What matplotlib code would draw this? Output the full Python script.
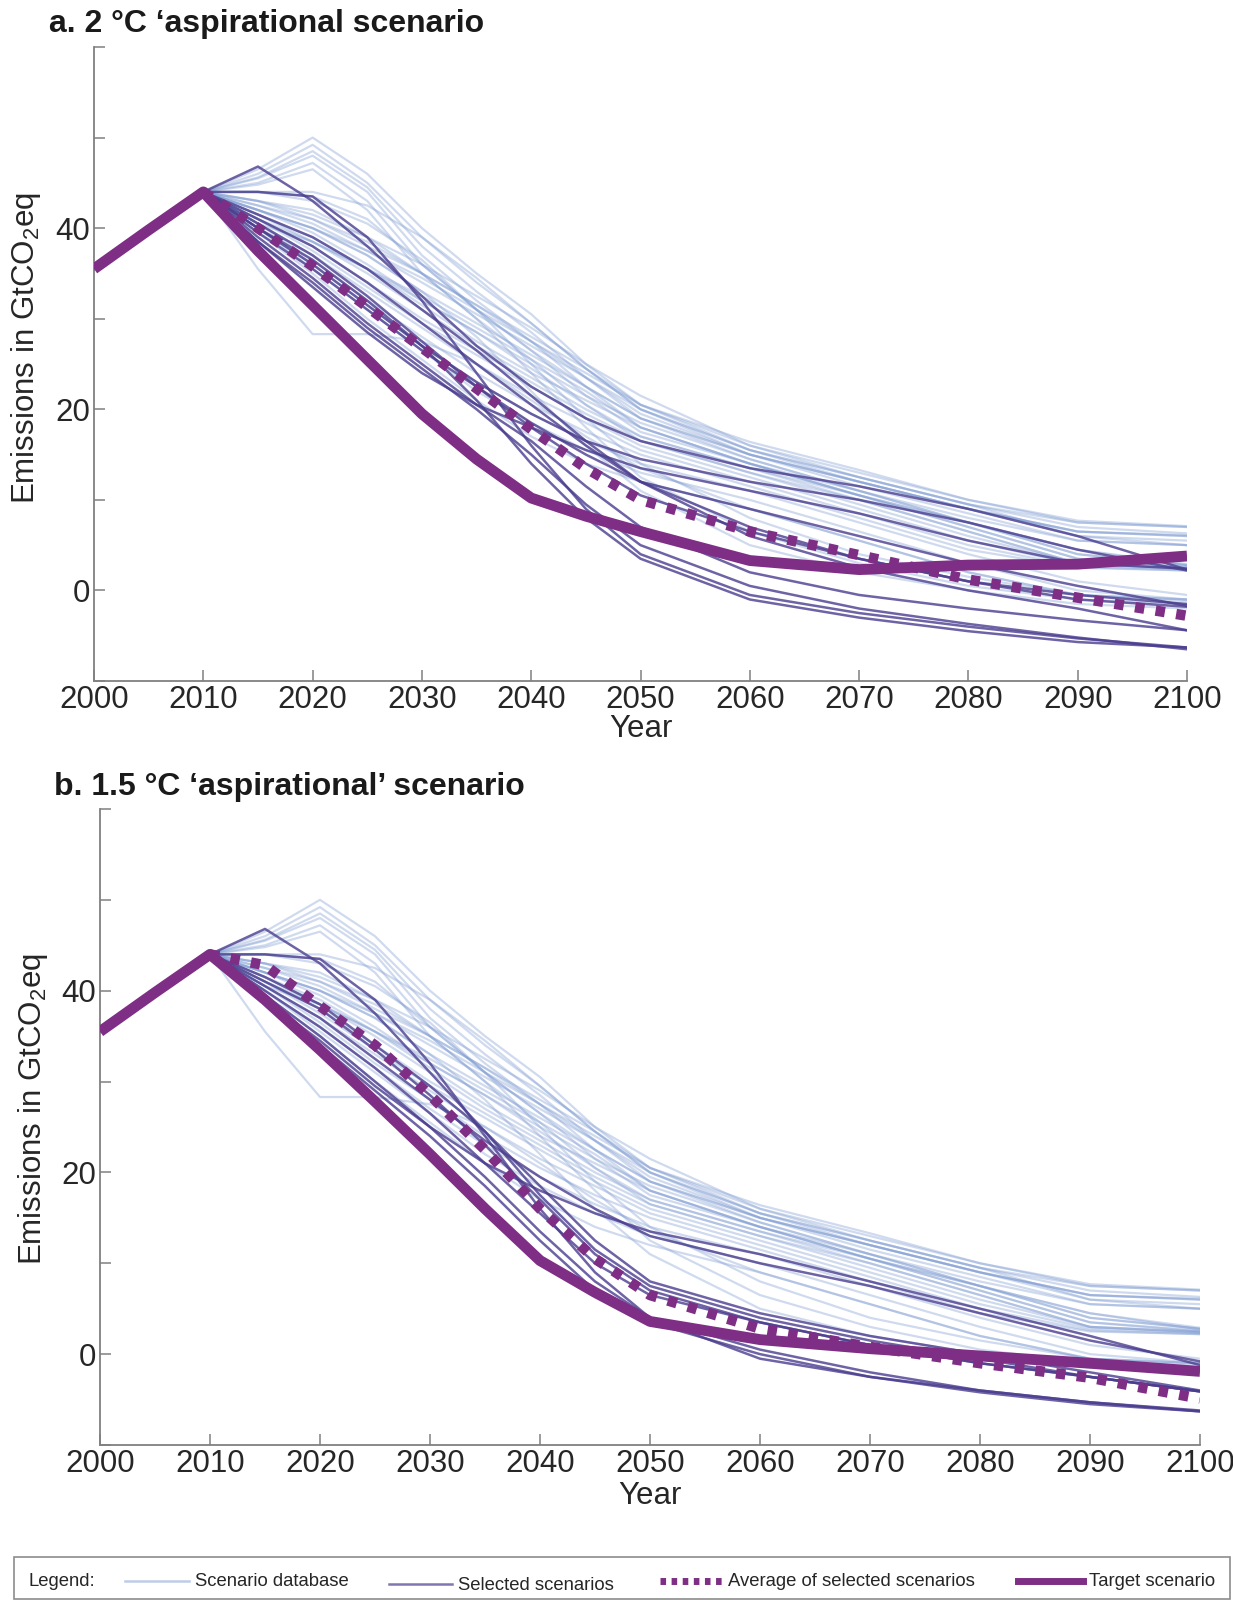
import matplotlib
matplotlib.use("Agg")
import matplotlib.pyplot as plt
from matplotlib.patches import Rectangle
from matplotlib.lines import Line2D

plt.rcParams['font.family'] = ['Liberation Sans', 'DejaVu Sans']
plt.rcParams['mathtext.fontset'] = 'custom'
plt.rcParams['mathtext.rm'] = 'Liberation Sans'
plt.rcParams['mathtext.it'] = 'Liberation Sans'

# ---------------- data ----------------
YEARS = [2000, 2005, 2010, 2015, 2020, 2025, 2030, 2035, 2040, 2045, 2050,
         2060, 2070, 2080, 2090, 2100]
HIST = [35.5, 39.8, 44.0]          # 2000, 2005, 2010 (shared by all scenarios)
AVG_YEARS = YEARS[2:]              # average of selected drawn from 2010

# scenario database (values 2015 ... 2100)
DB01 = [46.5, 50.0, 46.0, 40.0, 35.0, 30.5, 25.0, 20.5, 16.4, 13.3, 10.0, 7.7, 7.1]
DB02 = [46.0, 49.2, 45.0, 39.0, 34.0, 29.5, 24.5, 20.0, 15.5, 12.5, 9.5, 7.0, 6.3]
DB03 = [45.6, 48.5, 44.5, 38.0, 33.0, 28.5, 23.5, 19.0, 15.0, 12.0, 9.0, 6.0, 5.5]
DB04 = [45.5, 48.0, 44.0, 37.0, 32.0, 27.5, 22.5, 18.0, 14.0, 10.5, 7.0, 3.5, 2.5]
DB05 = [45.0, 47.2, 43.0, 36.0, 31.0, 26.5, 21.5, 17.5, 14.0, 11.0, 7.5, 4.0, 2.8]
DB06 = [44.8, 46.5, 42.0, 35.0, 30.0, 25.5, 20.5, 16.5, 13.0, 10.0, 6.5, 3.0, 2.4]
DB07 = [35.5, 28.3, 28.3, 27.5, 25.0, 21.0, 17.0, 13.5, 9.0, 5.5, 2.0, -0.5, -1.0]
DB08 = [44.0, 43.5, 41.0, 36.0, 31.0, 26.5, 22.5, 19.0, 15.0, 12.0, 9.0, 6.5, 6.1]
DB09 = [43.0, 41.5, 39.0, 36.0, 32.5, 29.0, 25.0, 21.5, 16.0, 12.5, 9.5, 7.5, 7.0]
DB10 = [42.5, 41.0, 38.0, 35.0, 31.5, 28.0, 24.5, 20.5, 15.5, 12.0, 9.0, 6.5, 6.0]
DB11 = [42.5, 40.5, 37.5, 34.0, 30.5, 27.0, 23.5, 20.0, 15.0, 11.5, 8.5, 5.5, 5.0]
DB12 = [42.0, 40.0, 37.0, 33.0, 29.5, 26.0, 22.5, 19.0, 14.5, 11.0, 8.0, 5.5, 5.0]
DB13 = [42.0, 39.5, 36.0, 32.0, 28.5, 25.0, 21.5, 18.5, 14.5, 11.0, 7.5, 4.0, 2.8]
DB14 = [41.5, 39.0, 35.5, 31.5, 27.5, 24.0, 21.0, 18.0, 14.0, 10.5, 7.0, 3.5, 2.6]
DB15 = [41.5, 38.5, 35.0, 31.0, 27.0, 23.5, 20.0, 17.0, 13.5, 10.0, 6.5, 3.0, 2.5]
DB16 = [41.0, 38.0, 34.0, 30.0, 26.5, 23.0, 19.5, 16.5, 13.0, 9.5, 6.0, 3.0, 2.4]
DB17 = [41.0, 37.5, 33.5, 29.5, 26.0, 22.5, 19.0, 16.0, 12.5, 9.0, 5.5, 2.8, 2.3]
DB18 = [40.5, 37.0, 33.0, 29.0, 25.0, 21.5, 18.5, 15.5, 12.0, 8.5, 5.0, 2.6, 2.2]
DB19 = [40.5, 36.5, 32.0, 28.0, 24.0, 20.5, 17.5, 15.0, 11.5, 8.0, 4.5, 2.5, 2.2]
DB20 = [40.0, 36.0, 31.5, 27.0, 23.0, 19.5, 16.5, 14.0, 11.0, 7.5, 4.0, 1.0, -0.5]
DB21 = [40.0, 35.5, 31.0, 26.5, 22.0, 18.5, 15.5, 13.0, 10.0, 6.5, 3.0, 0.0, -1.0]
DB22 = [39.5, 35.0, 30.0, 25.5, 21.0, 17.0, 14.0, 12.0, 9.0, 5.5, 2.0, -0.5, -1.2]
DB23 = [42.0, 40.0, 37.5, 34.5, 31.0, 27.5, 24.0, 20.5, 16.0, 13.0, 10.0, 7.5, 7.0]
DB24 = [43.0, 41.0, 38.5, 35.0, 31.5, 27.5, 23.5, 19.5, 15.0, 12.0, 9.0, 6.5, 6.0]
DB25 = [40.5, 38.5, 35.5, 32.0, 28.5, 24.5, 20.5, 17.0, 13.5, 10.5, 7.5, 4.5, 2.7]
DB26 = [42.0, 40.0, 37.0, 33.0, 28.0, 22.0, 16.0, 11.0, 5.0, 2.0, 0.0, -1.5, -2.0]
DB27 = [43.0, 42.0, 39.0, 35.0, 30.0, 24.0, 18.0, 12.5, 6.5, 3.0, 0.5, -1.0, -1.5]
DB28 = [44.0, 43.0, 40.5, 36.5, 31.0, 25.0, 19.0, 14.0, 8.0, 4.0, 1.5, -0.5, -1.0]
DB29 = [41.0, 38.5, 35.5, 32.5, 29.0, 25.5, 22.0, 18.0, 14.0, 10.5, 7.5, 4.5, 2.9]
DB30 = [44.0, 44.0, 42.5, 39.0, 34.5, 29.5, 24.5, 20.0, 15.5, 12.5, 9.5, 6.0, 5.0]
DATABASE = [DB01, DB02, DB03, DB04, DB05, DB06, DB07, DB08, DB09, DB10,
            DB11, DB12, DB13, DB14, DB15, DB16, DB17, DB18, DB19, DB20,
            DB21, DB22, DB23, DB24, DB25, DB26, DB27, DB28, DB29, DB30]

# selected scenarios, panel a (2015 ... 2100)
SA01 = [46.8, 43.0, 38.0, 32.5, 27.0, 22.5, 19.0, 16.5, 13.5, 11.5, 9.0, 6.0, 2.3]
SA02 = [44.0, 43.5, 39.0, 32.0, 24.0, 16.0, 9.0, 4.0, -0.5, -2.5, -4.0, -5.3, -6.3]
SA03 = [40.0, 36.0, 31.5, 27.0, 23.0, 19.5, 16.5, 14.5, 12.0, 10.0, 7.5, 4.5, 2.2]
SA04 = [39.5, 35.5, 31.0, 26.5, 22.5, 18.5, 15.0, 12.0, 9.0, 6.0, 3.0, 0.5, -1.7]
SA05 = [39.0, 34.5, 29.5, 25.0, 20.5, 16.5, 11.5, 7.0, 2.0, -0.5, -2.0, -3.3, -4.4]
SA06 = [38.5, 34.0, 29.0, 24.5, 20.0, 15.0, 9.5, 5.0, 0.5, -2.0, -3.7, -5.2, -6.5]
SA07 = [38.5, 33.5, 28.5, 24.0, 20.5, 18.0, 15.5, 13.5, 11.0, 8.5, 5.5, 3.0, 2.4]
SA08 = [40.5, 37.0, 32.5, 27.5, 22.5, 18.0, 14.0, 10.5, 6.5, 3.5, 1.0, -1.0, -1.8]
SA09 = [41.0, 38.0, 34.0, 29.5, 25.0, 20.5, 16.0, 12.0, 7.0, 3.5, 1.0, -0.5, -1.5]
SA10 = [40.0, 36.5, 32.0, 27.0, 21.0, 14.0, 8.0, 3.5, -1.0, -3.0, -4.5, -5.7, -6.3]
SA11 = [41.5, 39.0, 35.5, 31.0, 26.5, 21.5, 16.5, 12.0, 6.0, 2.5, 0.0, -2.0, -4.4]
SELECTED_A = [SA01, SA02, SA03, SA04, SA05, SA06, SA07, SA08, SA09, SA10, SA11]

# selected scenarios, panel b (2015 ... 2100)
SB01 = [46.8, 43.0, 37.5, 31.0, 24.5, 17.5, 11.5, 7.5, 4.0, 1.5, -0.5, -2.5, -4.1]
SB02 = [44.0, 43.5, 39.0, 32.0, 24.0, 16.0, 9.0, 4.0, -0.5, -2.5, -4.0, -5.3, -6.3]
SB03 = [40.0, 36.0, 31.5, 26.5, 21.0, 15.5, 10.0, 6.5, 3.5, 1.0, -1.0, -2.5, -4.1]
SB04 = [39.5, 35.0, 30.0, 25.0, 19.5, 13.5, 8.0, 4.0, 0.5, -2.0, -4.0, -5.3, -6.2]
SB05 = [39.0, 34.5, 29.5, 25.0, 21.0, 18.0, 15.5, 13.5, 11.0, 8.0, 5.0, 2.0, -1.2]
SB06 = [40.5, 37.0, 32.5, 28.0, 23.5, 19.5, 16.0, 13.0, 10.0, 7.5, 4.5, 1.5, -0.8]
SB07 = [41.0, 38.0, 33.5, 28.5, 23.0, 17.0, 11.0, 7.0, 3.5, 1.0, -1.0, -2.5, -4.1]
SB08 = [39.0, 34.0, 29.0, 24.0, 18.5, 12.5, 7.0, 3.5, 0.0, -2.5, -4.2, -5.5, -6.3]
SB09 = [41.5, 38.5, 34.0, 29.5, 24.5, 18.5, 12.5, 8.0, 4.5, 2.0, 0.0, -2.0, -4.0]
SELECTED_B = [SB01, SB02, SB03, SB04, SB05, SB06, SB07, SB08, SB09]

# averages of selected scenarios (2010 ... 2100)
AVG_A = [44.0, 40.0, 35.8, 31.3, 26.8, 22.3, 17.8, 13.5, 10.0, 6.5, 3.9, 1.2, -0.8, -2.8]
AVG_B = [44.0, 42.8, 38.3, 34.0, 28.5, 22.5, 16.0, 10.5, 6.5, 2.8, 0.8, -1.0, -2.6, -4.9]

# target scenarios (2000 ... 2100)
TARGET_A = [35.5, 39.8, 44.0, 37.5, 31.5, 25.5, 19.5, 14.5, 10.2, 8.2, 6.5, 3.3, 2.3, 2.8, 2.9, 3.8]
TARGET_B = [35.5, 39.8, 44.0, 39.0, 33.5, 27.8, 22.0, 16.0, 10.3, 6.8, 3.6, 1.6, 0.6, -0.2, -1.0, -1.9]

TITLES = ["a. 2 \u00b0C \u2018aspirational scenario",
          "b. 1.5 \u00b0C \u2018aspirational\u2019 scenario"]
XLABEL = "Year"
YLABEL = "Emissions in GtCO$_2$eq"
XTICKS = list(range(2000, 2101, 10))
YTICKS = list(range(-10, 61, 10))
YTICKLABELS = ["" if v not in (0, 20, 40) else str(v) for v in YTICKS]
LEGEND_LABELS = ["Scenario database", "Selected scenarios",
                 "Average of selected scenarios", "Target scenario"]

# ---------------- style ----------------
C_DB = '#7d9bd2'
C_SEL = '#4a3d8f'
C_TGT = '#7e2e84'
C_SPINE = '#808080'
C_TXT = '#262626'

W, H = 1233, 1600
fig = plt.figure(figsize=(W / 100, H / 100), dpi=100)


def frac(l, t, r, b):
    return [l / W, 1 - b / H, (r - l) / W, (b - t) / H]


panels = [
    dict(rect=frac(94, 47, 1187, 681), sel=SELECTED_A, avg=AVG_A, tgt=TARGET_A,
         title=TITLES[0], tx=49, ty=32, ylc=(-0.047, 0.525), xlc=(0.5, -0.052)),
    dict(rect=frac(100, 809, 1200, 1445), sel=SELECTED_B, avg=AVG_B, tgt=TARGET_B,
         title=TITLES[1], tx=54, ty=795, ylc=(-0.045, 0.528), xlc=(0.5, -0.057)),
]

for p in panels:
    ax = fig.add_axes(p['rect'])
    for s in DATABASE:
        ax.plot(YEARS, HIST + s, color=C_DB, alpha=0.36, lw=1.6, zorder=1,
                solid_joinstyle='round')
    for s in p['sel']:
        ax.plot(YEARS, HIST + s, color=C_SEL, alpha=0.8, lw=1.8, zorder=2,
                solid_joinstyle='round')
    ax.plot(AVG_YEARS, p['avg'], color=C_TGT, lw=7.5, zorder=3,
            dashes=(0.9, 1.1), dash_capstyle='butt')
    ax.plot(YEARS, p['tgt'], color=C_TGT, lw=7.8, zorder=4,
            solid_joinstyle='round', solid_capstyle='butt')

    ax.set_xlim(2000, 2100)
    ax.set_ylim(-10, 60)
    ax.set_xticks(XTICKS)
    ax.set_yticks(YTICKS)
    ax.set_yticklabels(YTICKLABELS)
    for side in ('top', 'right'):
        ax.spines[side].set_visible(False)
    for side in ('left', 'bottom'):
        ax.spines[side].set_color(C_SPINE)
        ax.spines[side].set_linewidth(1.3)
    ax.tick_params(direction='in', length=8, width=1.1, color=C_SPINE,
                   labelsize=22.5, labelcolor=C_TXT, pad=3)
    ax.set_xlabel(XLABEL, fontsize=22.5, color=C_TXT)
    ax.set_ylabel(YLABEL, fontsize=22.5, color=C_TXT)
    ax.yaxis.set_label_coords(*p['ylc'])
    ax.xaxis.set_label_coords(*p['xlc'])
    ax.patch.set_alpha(0)
    fig.text(p['tx'] / W, 1 - p['ty'] / H, p['title'], fontsize=23,
             fontweight='bold', color='#1a1a1a', ha='left', va='baseline')

# ---------------- legend box ----------------
lg = fig.add_axes([0, 0, 1, 1])
lg.set_xlim(0, W)
lg.set_ylim(H, 0)
lg.axis('off')
lg.add_patch(Rectangle((14, 1557), 1216, 42, fill=False, edgecolor='#8c8c8c', lw=1.2))
ly = 1581
FS_LEG = 13.3
lg.text(29, ly, "Legend:", fontsize=FS_LEG, color=C_TXT, va='center', ha='left')
lg.add_line(Line2D([125, 189], [ly, ly], color=C_DB, alpha=0.5, lw=1.8))
lg.text(195, ly, LEGEND_LABELS[0], fontsize=FS_LEG, color=C_TXT, va='center', ha='left')
lg.add_line(Line2D([389, 452], [ly + 3, ly + 3], color=C_SEL, alpha=0.7, lw=1.8))
lg.text(458, ly + 4, LEGEND_LABELS[1], fontsize=FS_LEG, color=C_TXT, va='center', ha='left')
lg.add_line(Line2D([660, 725], [ly, ly], color=C_TGT, lw=5, dashes=(0.8, 0.8),
                   dash_capstyle='butt'))
lg.text(728, ly, LEGEND_LABELS[2], fontsize=FS_LEG, color=C_TXT, va='center', ha='left')
lg.add_line(Line2D([1018, 1083], [ly, ly], color=C_TGT, lw=5))
lg.text(1089, ly, LEGEND_LABELS[3], fontsize=FS_LEG, color=C_TXT, va='center', ha='left')

fig.savefig("out.png", dpi=100)
